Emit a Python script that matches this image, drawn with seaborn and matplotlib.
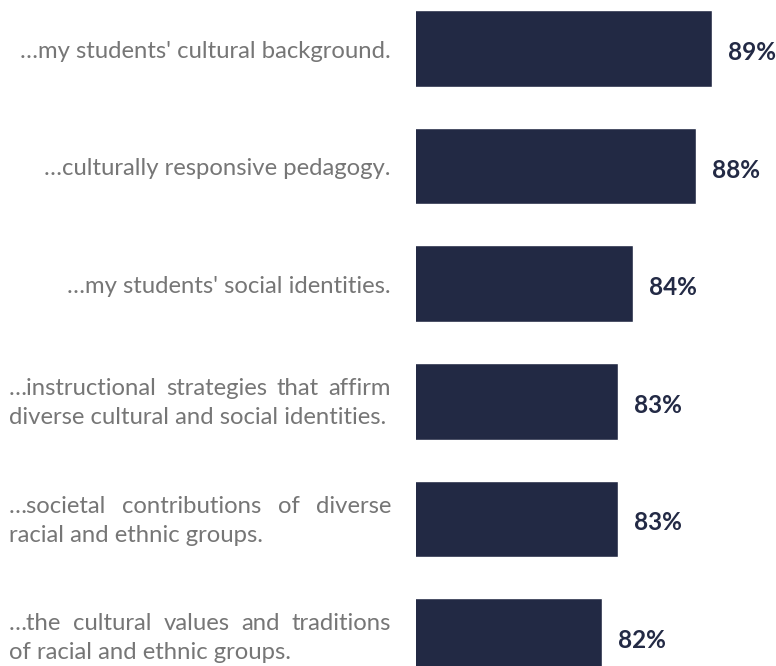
import matplotlib
matplotlib.use("Agg")
import matplotlib.pyplot as plt
import matplotlib.transforms as mtransforms
import pandas as pd
import seaborn as sns

# Survey statements (completions of "I have knowledge of ...") and shares agreeing
statements = [
    "\u2026my students' cultural background.",
    "\u2026culturally responsive pedagogy.",
    "\u2026my students' social identities.",
    "\u2026instructional strategies that affirm\ndiverse cultural and social identities.",
    "\u2026societal contributions of diverse\nracial and ethnic groups.",
    "\u2026the cultural values and traditions\nof racial and ethnic groups.",
]
shares = [89, 88, 84, 83, 83, 82]

BAR_COLOR = "#222944"
VALUE_COLOR = "#232a45"
LABEL_COLOR = "#767676"
FONT = "Lato"

W, H, DPI = 776, 666, 100
sns.set_theme(style="white")
plt.rcParams["font.family"] = [FONT, "DejaVu Sans"]

fig = plt.figure(figsize=(W / DPI, H / DPI), dpi=DPI)
ax = fig.add_axes([416 / W, 0, 360 / W, 1])

df = pd.DataFrame({"statement": statements, "share": shares})
sns.barplot(data=df, x="share", y="statement", orient="h", color=BAR_COLOR,
            saturation=1, width=0.65, ax=ax)

# pixel geometry of the category axis
px_per_cat = 117.6
first_center_px = 48.5
ax.set_ylim((H - first_center_px) / px_per_cat, -first_center_px / px_per_cat)
x0 = 70.13
ax.set_xlim(x0, x0 + 360 / 15.67)
ax.set_axis_off()

# value labels at the end of each bar
for i, v in enumerate(shares):
    ax.annotate(f"{v}%", xy=(v, i), xytext=(11.4, -1.5), textcoords="offset points",
                ha="left", va="center_baseline", fontsize=17.5, fontweight="bold",
                color=VALUE_COLOR, family=[FONT, "DejaVu Sans"])

# statement labels: single lines right-aligned, two-line blocks justified
label_fs = 17.2
text_right_px = 391
text_left_px = 9
line_gap_px = 29
trans = mtransforms.blended_transform_factory(fig.transFigure, ax.transData)
renderer = fig.canvas.get_renderer()


def text_width(s):
    t = fig.text(0, 0, s, fontsize=label_fs, family=[FONT, "DejaVu Sans"])
    w = t.get_window_extent(renderer).width
    t.remove()
    return w


def to_data(dpx):
    return dpx / px_per_cat


for i, s in enumerate(statements):
    lines = s.split("\n")
    if len(lines) == 1:
        ax.text(text_right_px / W, i + to_data(9), s, transform=trans,
                ha="right", va="baseline", fontsize=label_fs, color=LABEL_COLOR,
                family=[FONT, "DejaVu Sans"])
        continue
    first, second = lines
    base1 = i + to_data(-6)
    base2 = i + to_data(-6 + line_gap_px)
    words = first.split(" ")
    widths = [text_width(w) for w in words]
    gap = (text_right_px - text_left_px - sum(widths)) / (len(words) - 1)
    x = text_left_px
    for w, wd in zip(words, widths):
        ax.text(x / W, base1, w, transform=trans, ha="left", va="baseline",
                fontsize=label_fs, color=LABEL_COLOR, family=[FONT, "DejaVu Sans"])
        x += wd + gap
    ax.text(text_left_px / W, base2, second, transform=trans, ha="left",
            va="baseline", fontsize=label_fs, color=LABEL_COLOR,
            family=[FONT, "DejaVu Sans"])

fig.savefig("out.png", dpi=DPI, facecolor="white")
